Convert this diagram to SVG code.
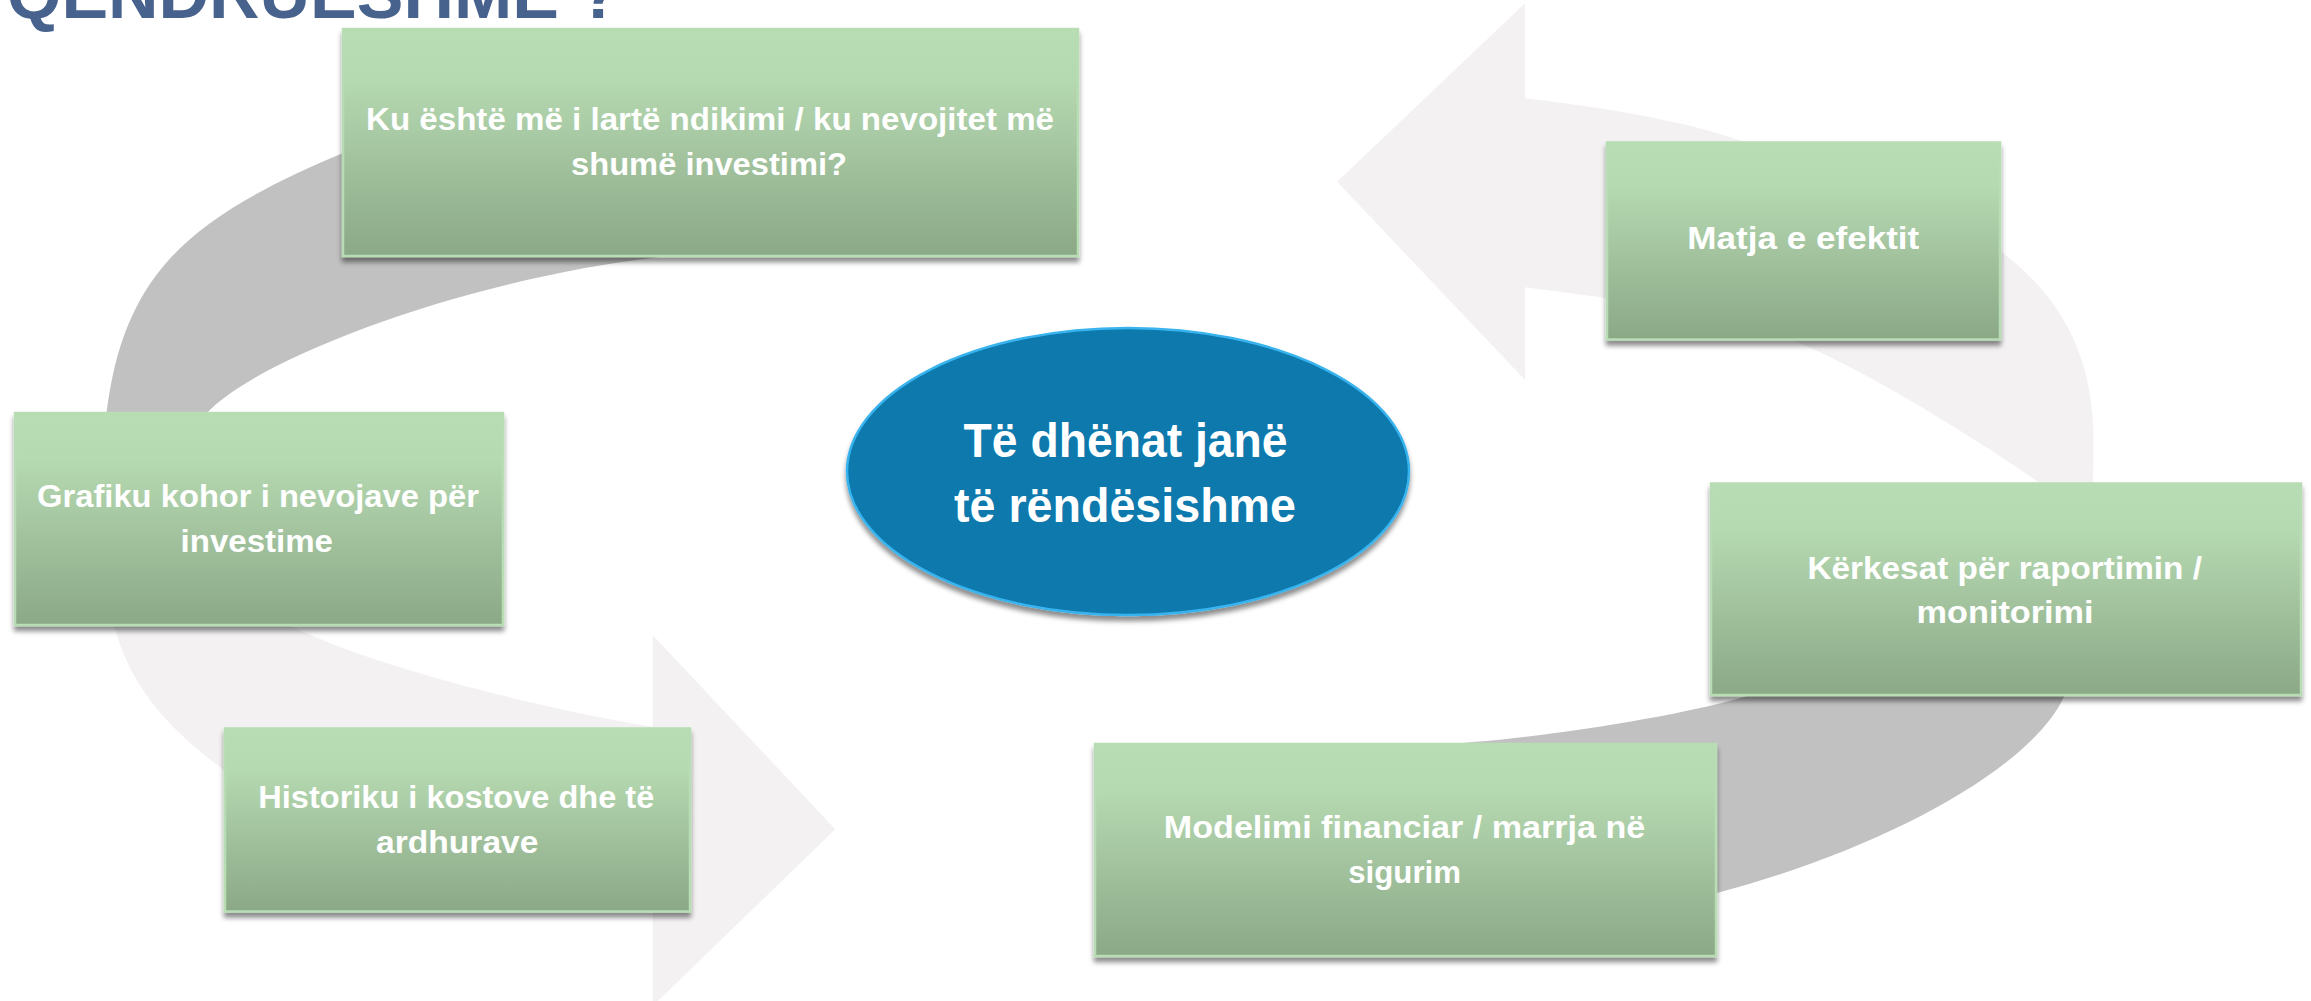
<svg xmlns="http://www.w3.org/2000/svg" width="2311" height="1001" viewBox="0 0 2311 1001">
<style>
.bt{font-family:"Liberation Sans","Noto Sans",Arial,sans-serif;font-weight:700;font-size:32px;fill:#ffffff}
.et{font-family:"Liberation Sans","Noto Sans",Arial,sans-serif;font-weight:700;font-size:48px;fill:#ffffff}
.title{font-family:"Liberation Sans",Arial,sans-serif;font-weight:700;font-size:69px;fill:#47628c}
.box{fill:url(#gBox);stroke:#b8ddb4;stroke-width:2.5;filter:url(#sh)}
</style>
<defs>
<linearGradient id="gBox" x1="0" y1="0" x2="0" y2="1">
<stop offset="0" stop-color="#b8ddb4"/>
<stop offset="0.22" stop-color="#b5d9b1"/>
<stop offset="1" stop-color="#8ba887"/>
</linearGradient>
<linearGradient id="gL" gradientUnits="userSpaceOnUse" x1="0" y1="500" x2="0" y2="560">
<stop offset="0" stop-color="#c1c1c1"/>
<stop offset="1" stop-color="#f3f1f2"/>
</linearGradient>
<linearGradient id="gR" gradientUnits="userSpaceOnUse" x1="0" y1="560" x2="0" y2="620">
<stop offset="0" stop-color="#f3f1f2"/>
<stop offset="1" stop-color="#c1c1c1"/>
</linearGradient>
<filter id="sh" x="-5%" y="-10%" width="110%" height="125%">
<feDropShadow dx="0" dy="5" stdDeviation="2.5" flood-color="#000" flood-opacity="0.45"/>
</filter>
</defs>
<rect width="2311" height="1001" fill="#ffffff"/>
<g id="connectors">
<path id="arrow-left" fill="url(#gL)" d="M 600,70 L 343,153 C 165,228 102,290 102,500 C 100,640 130,700 224,770 L 652.7,900 L 652.7,1006 L 835.3,829.3 L 652.7,635 L 652.7,726.7 C 560,712 380,670 293,627 C 230,580 195,480 206.6,413.3 C 255,360 460,280 661,256.7 L 820,245 Z"/>
<path id="arrow-right" fill="url(#gR)" d="M 1300,762 L 1461.2,743 C 1540,738 1680,716 1744.9,696.7 C 1880,640 2000,570 2039.7,483 C 2000,455 1870,370 1789,339 C 1720,315 1650,302 1607,298 L 1525,287.3 L 1525,380 L 1337.1,181.7 L 1525,3.3 L 1525,98.3 C 1640,112 1720,128 1790,160 C 1990,215 2093.5,290 2093.5,440 C 2093.5,560 2080,640 2064,696.7 C 2030,770 1880,850 1716,893.3 L 1500,945 Z"/>
</g>
<g id="title">
<text class="title" x="7" y="18" textLength="614" lengthAdjust="spacingAndGlyphs">QËNDRUESHME ?</text>
</g>
<g id="node-impact">
<rect class="box" x="343" y="29" width="735" height="227"/>
<text class="bt" x="366" y="130" textLength="688" lengthAdjust="spacingAndGlyphs">Ku është më i lartë ndikimi / ku nevojitet më</text>
<text class="bt" x="571" y="175" textLength="276" lengthAdjust="spacingAndGlyphs">shumë investimi?</text>
</g>
<g id="node-timeline">
<rect class="box" x="15" y="413" width="488" height="212"/>
<text class="bt" x="37" y="507" textLength="442" lengthAdjust="spacingAndGlyphs">Grafiku kohor i nevojave për</text>
<text class="bt" x="180.5" y="551.7" textLength="152.5" lengthAdjust="spacingAndGlyphs">investime</text>
</g>
<g id="node-history">
<rect class="box" x="225" y="728.5" width="465" height="183"/>
<text class="bt" x="258.3" y="808.3" textLength="396" lengthAdjust="spacingAndGlyphs">Historiku i kostove dhe të</text>
<text class="bt" x="376" y="853.3" textLength="162.5" lengthAdjust="spacingAndGlyphs">ardhurave</text>
</g>
<g id="node-effect">
<rect class="box" x="1607" y="142.5" width="393" height="197"/>
<text class="bt" x="1687.3" y="249.3" textLength="232" lengthAdjust="spacingAndGlyphs">Matja e efektit</text>
</g>
<g id="node-reporting">
<rect class="box" x="1711" y="483.5" width="590" height="211.5"/>
<text class="bt" x="1807.5" y="579" textLength="394.4" lengthAdjust="spacingAndGlyphs">Kërkesat për raportimin /</text>
<text class="bt" x="1916.6" y="623.3" textLength="177" lengthAdjust="spacingAndGlyphs">monitorimi</text>
</g>
<g id="node-modelling">
<rect class="box" x="1095" y="744" width="621" height="212"/>
<text class="bt" x="1163.8" y="838.3" textLength="481.5" lengthAdjust="spacingAndGlyphs">Modelimi financiar / marrja në</text>
<text class="bt" x="1348.2" y="883.3" textLength="112.8" lengthAdjust="spacingAndGlyphs">sigurim</text>
</g>
<g id="node-center">
<ellipse cx="1128" cy="471.5" rx="281" ry="143.5" fill="#0a79ad" stroke="#38b3ee" stroke-width="2.5" filter="url(#sh)"/>
<text class="et" x="963.6" y="456.7" textLength="324" lengthAdjust="spacingAndGlyphs">Të dhënat janë</text>
<text class="et" x="954" y="522.3" textLength="342" lengthAdjust="spacingAndGlyphs">të rëndësishme</text>
</g>
</svg>
